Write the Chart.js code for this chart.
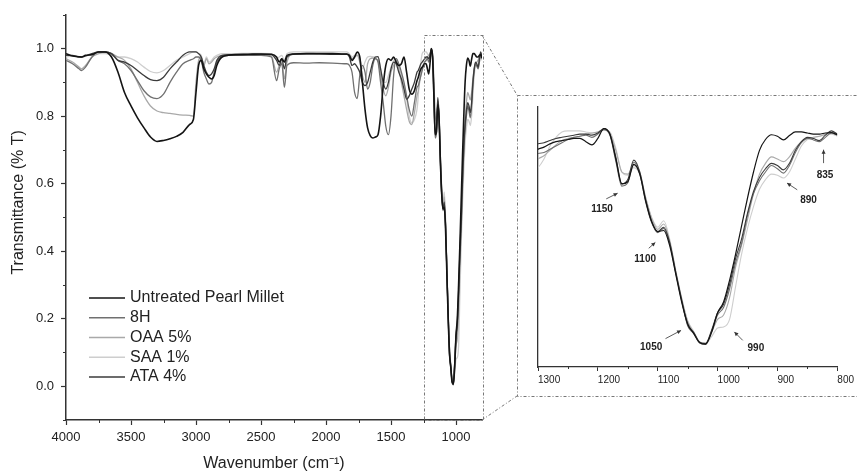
<!DOCTYPE html>
<html><head><meta charset="utf-8">
<script src="https://cdn.jsdelivr.net/npm/chart.js@4.4.1/dist/chart.umd.min.js"></script>
<style>
html,body{margin:0;padding:0;background:#fff;}
#wrap{position:relative;width:857px;height:473px;overflow:hidden;background:#fff;}
#wrap canvas{position:absolute;left:0;top:0;}
</style></head><body>
<div id="wrap"><canvas id="main" width="857" height="473"></canvas><canvas id="inset" width="857" height="473"></canvas></div>
<script>
// ---------------- DATA ----------------
const wavenumbers = [
 4000,3950,3900,3880,3850,3800,3750,3700,3650,3600,3550,3500,3450,3400,3350,3300,3250,3200,3150,3100,3050,3020,3000,
 2980,2960,2940,2920,2900,2880,2860,2840,2800,2750,
 2700,2600,2500,2420,2380,2360,2340,2320,2300,2250,2150,2050,1950,1860,
 1840,1820,1800,1780,1760,1740,1720,1700,1680,1660,1640,1620,1600,1580,1560,1540,1520,1500,1480,1460,1440,1420,1400,1380,1360,1340,1320,
 1300,1290,1280,1270,1260,1250,1240,1230,1220,1210,1200,1190,1180,1170,1160,1150,1140,1130,1120,1110,1100,1090,1080,1070,1060,1050,
 1040,1030,1020,1010,1000,990,980,970,960,950,940,930,920,910,900,890,880,870,860,850,840,830,820,810,800
];
const seriesNames = ['Untreated Pearl Millet','8H','OAA 5%','SAA 1%','ATA 4%'];

const untreated = [
 0.985,0.978,0.976,0.975,0.98,0.982,0.99,0.99,0.975,0.93,0.87,0.83,0.795,0.765,0.738,0.725,0.728,0.733,0.74,0.752,0.775,0.79,0.87,
 0.95,0.965,0.94,0.925,0.915,0.91,0.92,0.95,0.975,0.98,
 0.982,0.983,0.984,0.983,0.975,0.96,0.97,0.96,0.98,0.984,0.985,0.985,0.985,0.984,
 0.984,0.98,0.965,0.975,0.99,0.975,0.9,0.82,0.765,0.742,0.735,0.738,0.745,0.8,0.89,0.95,0.97,0.965,0.975,0.96,0.95,0.955,0.975,0.93,0.88,0.865,0.875,
 0.905,0.915,0.93,0.94,0.945,0.95,0.955,0.955,0.94,0.925,0.955,1.0,0.975,0.86,0.745,0.755,0.835,0.79,0.665,0.57,0.525,0.53,0.46,0.33,0.2,0.1,
 0.055,0.012,0.006,0.06,0.15,0.2,0.3,0.42,0.55,0.68,0.8,0.9,0.95,0.972,0.965,0.948,0.968,0.985,0.985,0.98,0.975,0.975,0.98,0.982,0.972
];
const h8 = [
 0.965,0.955,0.94,0.935,0.945,0.975,0.99,0.99,0.985,0.965,0.955,0.935,0.905,0.875,0.857,0.852,0.865,0.9,0.93,0.955,0.965,0.97,0.975,
 0.975,0.965,0.93,0.91,0.895,0.9,0.93,0.96,0.975,0.98,
 0.98,0.98,0.98,0.975,0.905,0.94,0.955,0.885,0.95,0.958,0.957,0.958,0.957,0.955,
 0.955,0.95,0.93,0.87,0.852,0.92,0.95,0.93,0.88,0.9,0.95,0.97,0.96,0.9,0.84,0.77,0.745,0.8,0.92,0.97,0.955,0.93,0.9,0.86,0.82,0.8,0.84,
 0.885,0.89,0.905,0.92,0.935,0.95,0.96,0.965,0.97,0.96,0.975,0.995,0.97,0.85,0.735,0.75,0.845,0.79,0.66,0.565,0.52,0.54,0.47,0.335,0.205,0.09,
 0.055,0.012,0.004,0.065,0.14,0.175,0.26,0.38,0.47,0.6,0.7,0.76,0.8,0.83,0.815,0.795,0.83,0.89,0.935,0.955,0.948,0.94,0.96,0.98,0.97
];
const oaa5 = [
 0.97,0.96,0.945,0.94,0.95,0.975,0.985,0.99,0.985,0.975,0.965,0.94,0.9,0.86,0.83,0.815,0.81,0.808,0.805,0.803,0.802,0.8,0.9,
 0.965,0.975,0.95,0.97,0.955,0.96,0.97,0.975,0.98,0.98,
 0.98,0.982,0.982,0.978,0.93,0.95,0.96,0.91,0.96,0.985,0.986,0.985,0.985,0.984,
 0.984,0.98,0.97,0.975,0.98,0.96,0.92,0.9,0.955,0.97,0.972,0.97,0.965,0.92,0.88,0.86,0.885,0.93,0.95,0.965,0.94,0.9,0.86,0.82,0.785,0.775,0.81,
 0.86,0.875,0.9,0.925,0.945,0.955,0.96,0.965,0.975,0.98,0.985,0.995,0.98,0.9,0.8,0.79,0.83,0.8,0.68,0.585,0.535,0.56,0.48,0.34,0.215,0.11,
 0.06,0.015,0.01,0.06,0.12,0.14,0.22,0.36,0.46,0.58,0.7,0.79,0.84,0.87,0.86,0.848,0.87,0.91,0.94,0.955,0.96,0.965,0.975,0.98,0.97
];
const saa1 = [
 0.975,0.978,0.975,0.975,0.978,0.985,0.985,0.985,0.98,0.975,0.975,0.97,0.96,0.945,0.932,0.928,0.935,0.95,0.965,0.975,0.985,0.99,0.99,
 0.985,0.98,0.95,0.975,0.96,0.965,0.975,0.98,0.985,0.985,
 0.985,0.986,0.986,0.985,0.97,0.975,0.98,0.965,0.985,0.99,0.99,0.99,0.99,0.99,
 0.99,0.985,0.975,0.98,0.985,0.97,0.94,0.96,0.975,0.977,0.976,0.975,0.975,0.94,0.9,0.9,0.92,0.945,0.965,0.97,0.95,0.92,0.89,0.85,0.8,0.78,0.79,
 0.82,0.86,0.92,0.96,0.985,0.99,0.99,0.99,0.985,0.98,0.985,0.995,0.985,0.91,0.8,0.785,0.82,0.79,0.68,0.59,0.545,0.575,0.49,0.35,0.22,0.115,
 0.065,0.015,0.005,0.04,0.08,0.085,0.12,0.27,0.42,0.54,0.64,0.72,0.765,0.79,0.785,0.772,0.8,0.86,0.92,0.95,0.96,0.965,0.97,0.975,0.965
];
const ata4 = [
 0.98,0.98,0.975,0.975,0.978,0.985,0.99,0.99,0.985,0.965,0.96,0.95,0.935,0.92,0.908,0.905,0.915,0.94,0.96,0.98,0.99,0.99,0.99,
 0.985,0.975,0.95,0.93,0.92,0.925,0.94,0.965,0.98,0.982,
 0.982,0.982,0.983,0.982,0.965,0.95,0.97,0.94,0.975,0.983,0.984,0.984,0.983,0.983,
 0.983,0.975,0.95,0.955,0.945,0.93,0.9,0.89,0.9,0.93,0.96,0.975,0.976,0.94,0.9,0.88,0.9,0.94,0.96,0.955,0.93,0.91,0.88,0.85,0.86,0.88,0.9,
 0.93,0.935,0.945,0.955,0.96,0.965,0.97,0.975,0.975,0.97,0.98,1.0,0.975,0.87,0.745,0.765,0.855,0.8,0.67,0.57,0.525,0.545,0.475,0.34,0.21,0.095,
 0.06,0.015,0.008,0.07,0.15,0.19,0.28,0.4,0.49,0.61,0.71,0.775,0.815,0.84,0.83,0.81,0.84,0.9,0.94,0.96,0.955,0.945,0.97,0.99,0.975
];
const seriesValues = [untreated, h8, oaa5, saa1, ata4];

const mainXTicks = [4000,3750,3500,3250,3000,2750,2500,2250,2000,1750,1500,1250,1000];
const mainXLabels = [4000,3500,3000,2500,2000,1500,1000];
const mainYLabels = [0.0,0.2,0.4,0.6,0.8,1.0];
const insetXLabels = [1300,1200,1100,1000,900,800];
const zoomWindow = [1250, 800];   // region shown enlarged
const insetNotes = [
 {text:'1150', at:[1193,0.628], from:[1186,0.676], to:[1167,0.702]},
 {text:'1100', at:[1121,0.397], from:[1115,0.448], to:[1104,0.475]},
 {text:'1050', at:[1111,-0.008], from:[1087,0.031], to:[1061,0.069]},
 {text:'990',  at:[936,-0.015],  from:[958,0.023],  to:[972,0.062]},
 {text:'890',  at:[848,0.668],   from:[867,0.718],  to:[884,0.749]},
 {text:'835',  at:[820.5,0.787], from:[823,0.841],  to:[823,0.903]}
];

// ---------------- STYLE ----------------
const FONT = '"Liberation Sans", Arial, Helvetica, sans-serif';
const lineColors = ['#141414','#707070','#a9a9a9','#cecece','#3b3b3b'];
const mainWidths = [1.6,1.3,1.3,1.3,1.3];
const drawOrder = [0,2,3,4,1];
const AXIS = '#333';
Chart.defaults.font.family = FONT;
Chart.defaults.color = '#222';
Chart.defaults.animation = false;

function pointsOf(vals){ return wavenumbers.map((w,i)=>({x:w, y:vals[i]})); }
function hasVal(list, v){ return list.some(t => Math.abs(t - v) < 1e-6); }

function makeDatasets(widths){
  return seriesNames.map((name,i)=>({
    label: name, data: pointsOf(seriesValues[i]),
    borderColor: lineColors[i], backgroundColor: lineColors[i],
    borderWidth: widths[i], pointRadius: 0, fill: false,
    cubicInterpolationMode: 'monotone', order: drawOrder[i]
  }));
}

function minorTicks(chart, id, isMinor, len){
  const s = chart.scales[id], ctx = chart.ctx;
  ctx.save(); ctx.strokeStyle = AXIS; ctx.lineWidth = 1;
  s.ticks.forEach(t=>{
    if (!isMinor(t.value)) return;
    const p = Math.round(s.getPixelForValue(t.value)) + 0.5;
    ctx.beginPath();
    if (s.isHorizontal()) { ctx.moveTo(p, s.top); ctx.lineTo(p, s.top + len); }
    else { ctx.moveTo(s.right, p); ctx.lineTo(s.right - len, p); }
    ctx.stroke();
  });
  ctx.restore();
}

const mainDecor = {
  id: 'mainDecor',
  afterDraw(chart){
    const ctx = chart.ctx, ca = chart.chartArea, sx = chart.scales.x, sy = chart.scales.y;
    minorTicks(chart, 'x', v => !hasVal(mainXLabels, v), 3);
    minorTicks(chart, 'y', v => { const k = Math.round(v*10); return Math.abs(k) % 2 === 1; }, 3);
    // y title
    ctx.save();
    ctx.translate(19, (ca.top + ca.bottom)/2 - 15);
    ctx.rotate(-Math.PI/2);
    ctx.font = '16px ' + FONT; ctx.fillStyle = '#222';
    ctx.textAlign = 'center'; ctx.textBaseline = 'middle';
    ctx.fillText('Transmittance (% T)', 0, 0);
    ctx.restore();
    // legend
    ctx.save();
    ctx.font = '16px ' + FONT; ctx.textBaseline = 'middle'; ctx.textAlign = 'left';
    const x0 = ca.left + 23, len = 36, y0 = ca.bottom - 122, dy = 19.75;
    seriesNames.forEach((n,i)=>{
      const y = y0 + i*dy;
      ctx.strokeStyle = lineColors[i]; ctx.lineWidth = 1.7;
      ctx.beginPath(); ctx.moveTo(x0, y); ctx.lineTo(x0+len, y); ctx.stroke();
      ctx.fillStyle = '#222'; ctx.fillText(n, x0 + len + 5, y);
    });
    ctx.restore();
    // zoom rectangle
    ctx.save();
    ctx.strokeStyle = '#777'; ctx.lineWidth = 1; ctx.setLineDash([3,2,1,2]);
    const l = sx.getPixelForValue(zoomWindow[0]), r = sx.getPixelForValue(zoomWindow[1]);
    const t = sy.getPixelForValue(1.04), b = sy.getPixelForValue(-0.1);
    ctx.strokeRect(Math.round(l)+0.5, Math.round(t)+0.5, Math.round(r-l), Math.round(b-t));
    ctx.restore();
  }
};

const mainChart = new Chart(document.getElementById('main'), {
  type: 'line',
  data: { datasets: makeDatasets(mainWidths) },
  options: {
    responsive: false, maintainAspectRatio: false, animation: false, events: [],
    layout: { padding: {left:0, right:375, top:13, bottom:0}, autoPadding: false },
    plugins: { legend: {display:false}, tooltip: {enabled:false}, title: {display:false} },
    scales: {
      x: {
        type: 'linear', reverse: true, min: 800, max: 4000,
        afterBuildTicks: s => { s.ticks = mainXTicks.map(v => ({value: v})); },
        ticks: { autoSkip: false, maxRotation: 0, padding: 5, font: {size:13}, color: '#222',
          callback: v => hasVal(mainXLabels, v) ? String(v) : '' },
        grid: { display: true, drawOnChartArea: false, drawTicks: true, tickLength: 5, tickWidth: 1.2,
          tickColor: c => (c.tick && hasVal(mainXLabels, c.tick.value)) ? AXIS : 'rgba(0,0,0,0)' },
        border: { display: true, color: AXIS, width: 1.5 },
        title: { display: true, text: 'Wavenumber (cm⁻¹)', font: {size:16}, color: '#222', padding: {top:0, bottom:0} },
        afterFit: s => { s.height = 53; }
      },
      y: {
        type: 'linear', min: -0.1, max: 1.1,
        ticks: { stepSize: 0.1, autoSkip: false, padding: 7, font: {size:13}, color: '#222',
          callback: v => hasVal(mainYLabels, v) ? v.toFixed(1) : '' },
        grid: { display: true, drawOnChartArea: false, drawTicks: true, tickLength: 5, tickWidth: 1.2,
          tickColor: c => (c.tick && hasVal(mainYLabels, c.tick.value)) ? AXIS : 'rgba(0,0,0,0)' },
        border: { display: true, color: AXIS, width: 1.5 },
        afterFit: s => { s.width = 66; }
      }
    }
  },
  plugins: [mainDecor]
});

const insetDecor = {
  id: 'insetDecor',
  afterDraw(chart){
    const ctx = chart.ctx, ca = chart.chartArea, sx = chart.scales.x, sy = chart.scales.y;
    minorTicks(chart, 'x', v => !hasVal(insetXLabels, v), 2);
    // annotations
    ctx.save();
    ctx.font = 'bold 10px ' + FONT; ctx.fillStyle = '#222';
    ctx.textAlign = 'center'; ctx.textBaseline = 'middle';
    ctx.strokeStyle = '#333'; ctx.lineWidth = 0.8;
    insetNotes.forEach(n=>{
      ctx.fillText(n.text, sx.getPixelForValue(n.at[0]), sy.getPixelForValue(n.at[1]));
      const x1 = sx.getPixelForValue(n.from[0]), y1 = sy.getPixelForValue(n.from[1]);
      const x2 = sx.getPixelForValue(n.to[0]), y2 = sy.getPixelForValue(n.to[1]);
      ctx.beginPath(); ctx.moveTo(x1,y1); ctx.lineTo(x2,y2); ctx.stroke();
      const a = Math.atan2(y2-y1, x2-x1), h = 4;
      ctx.beginPath(); ctx.moveTo(x2,y2);
      ctx.lineTo(x2 - h*Math.cos(a) + 2*Math.sin(a), y2 - h*Math.sin(a) - 2*Math.cos(a));
      ctx.lineTo(x2 - h*Math.cos(a) - 2*Math.sin(a), y2 - h*Math.sin(a) + 2*Math.cos(a));
      ctx.closePath(); ctx.fillStyle = '#333'; ctx.fill(); ctx.fillStyle = '#222';
    });
    ctx.restore();
    // inset frame and connectors to the main zoom window
    const box = {l: ca.left - 21, t: ca.top - 12, b: ca.bottom + 29, r: chart.width + 10};
    const mx = mainChart.scales.x.getPixelForValue(zoomWindow[1]);
    const mt = mainChart.scales.y.getPixelForValue(1.04), mb = mainChart.scales.y.getPixelForValue(-0.1);
    ctx.save();
    ctx.strokeStyle = '#777'; ctx.lineWidth = 1; ctx.setLineDash([3,2,1,2]);
    ctx.strokeRect(Math.round(box.l)+0.5, Math.round(box.t)+0.5, box.r - box.l, Math.round(box.b - box.t));
    ctx.beginPath(); ctx.moveTo(mx, mt); ctx.lineTo(box.l, box.t); ctx.stroke();
    ctx.beginPath(); ctx.moveTo(mx, mb); ctx.lineTo(box.l, box.b); ctx.stroke();
    ctx.restore();
  }
};

const insetChart = new Chart(document.getElementById('inset'), {
  type: 'line',
  data: { datasets: makeDatasets([1.2,1.1,1.1,1.1,1.1]) },
  options: {
    responsive: false, maintainAspectRatio: false, animation: false, events: [],
    layout: { padding: {left:538, right:15, top:107, bottom:0}, autoPadding: false },
    plugins: { legend: {display:false}, tooltip: {enabled:false}, title: {display:false} },
    scales: {
      x: {
        type: 'linear', reverse: true, min: 800, max: 1300,
        ticks: { stepSize: 50, autoSkip: false, maxRotation: 0, align: 'start', padding: 3,
          font: {size:10}, color: '#222',
          callback: v => hasVal(insetXLabels, v) ? String(v) : '' },
        grid: { display: true, drawOnChartArea: false, drawTicks: true, tickLength: 4, tickWidth: 1,
          tickColor: c => (c.tick && hasVal(insetXLabels, c.tick.value)) ? AXIS : 'rgba(0,0,0,0)' },
        border: { display: true, color: AXIS, width: 1.3 },
        afterFit: s => { s.height = 106; }
      },
      y: {
        type: 'linear', min: -0.1, max: 1.1,
        ticks: { display: false },
        grid: { display: false },
        border: { display: true, color: AXIS, width: 1.3 },
        afterFit: s => { s.width = 0; }
      }
    }
  },
  plugins: [insetDecor]
});
</script>
</body></html>
